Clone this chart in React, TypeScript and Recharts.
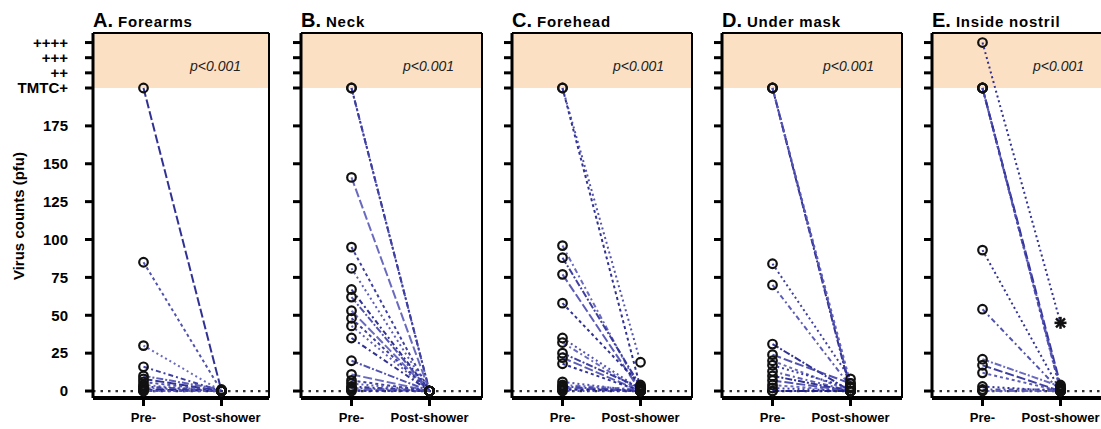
import { LineChart, Line, XAxis, YAxis, ReferenceArea, ReferenceLine } from "recharts";

// categories / labels
const letters = ["A.", "B.", "C.", "D.", "E."];
const sites = ["Forearms", "Neck", "Forehead", "Under mask", "Inside nostril"];
const timepoints = ["Pre-", "Post-shower"];
const yTickValues = [0, 25, 50, 75, 100, 125, 150, 175, 200, 210, 220, 230];
const yTickLabels = ["0", "25", "50", "75", "100", "125", "150", "175", "TMTC+", "++", "+++", "++++"];

// paired virus counts (pfu), one entry per subject: pre-shower / post-shower
const forearmsPre = [200, 85, 30, 16, 10, 8, 6, 4, 3, 2, 1, 0, 0];
const forearmsPost = [0, 0, 0, 0, 1, 0, 0, 0, 0, 0, 0, 0, 0];

const neckPre = [200, 200, 141, 95, 81, 67, 62, 53, 48, 43, 35, 20, 11, 7, 5, 3, 2, 1, 0];
const neckPost = [0, 0, 0, 0, 0, 0, 0, 0, 0, 0, 0, 0, 0, 0, 0, 0, 0, 0, 0];

const foreheadPre = [200, 200, 96, 88, 77, 58, 35, 32, 25, 22, 18, 6, 4, 3, 2, 1, 0];
const foreheadPost = [2, 19, 0, 3, 0, 4, 1, 0, 2, 0, 0, 0, 1, 0, 0, 0, 0];

const underMaskPre = [200, 200, 200, 84, 70, 31, 24, 20, 17, 13, 10, 7, 4, 2, 0, 0];
const underMaskPost = [0, 2, 5, 8, 3, 0, 5, 0, 2, 0, 0, 0, 0, 0, 0, 0];

const nostrilPre = [230, 200, 200, 200, 200, 93, 54, 21, 17, 12, 3, 1, 0];
const nostrilPost = [45, 0, 2, 4, 1, 0, 0, 3, 0, 0, 0, 1, 0];

const panels = [
  [forearmsPre, forearmsPost],
  [neckPre, neckPost],
  [foreheadPre, foreheadPost],
  [underMaskPre, underMaskPost],
  [nostrilPre, nostrilPost],
];

// layout / style
const FONT = "'Liberation Sans', Arial, Helvetica, sans-serif";
const LEFTS = [93, 301, 512, 722, 932];
const FRAME_W = [176, 181, 180, 180, 180];
const Y_MIN = -4.6;
const Y_MAX = 236.3;
const X_UNIT = 78;
const X_MIN = -50.5 / X_UNIT;
const lineColors = ["#1b1b88", "#3f3fa6", "#5a5ab8", "#2a2a97", "#4b4bb0"];
const lineDashes = ["9 3", "5 3 2 3", "3 3", "7 2 2 2", "2 3"];

const PLabel = ({ viewBox }: any) => {
  if (!viewBox) return null;
  return (
    <text
      x={viewBox.x + viewBox.width - 28}
      y={viewBox.y + 38}
      textAnchor="end"
      fontFamily={FONT}
      fontSize={14}
      fontStyle="italic"
      fill="#222"
    >
      p&lt;0.001
    </text>
  );
};

const makeDot = (panelIdx: number, s: number) => (props: any) => {
  const { cx, cy, index } = props;
  const key = `d-${s}-${index}`;
  if (cx == null || cy == null) return <g key={key} />;
  if (panelIdx === 4 && s === 0 && index === 1) {
    return (
      <g key={key} stroke="#111" strokeWidth={2.5}>
        <line x1={cx - 6} y1={cy} x2={cx + 6} y2={cy} />
        <line x1={cx} y1={cy - 6} x2={cx} y2={cy + 6} />
        <line x1={cx - 4.5} y1={cy - 4.5} x2={cx + 4.5} y2={cy + 4.5} />
        <line x1={cx - 4.5} y1={cy + 4.5} x2={cx + 4.5} y2={cy - 4.5} />
      </g>
    );
  }
  return <circle key={key} cx={cx} cy={cy} r={4.3} fill="none" stroke="#111" strokeWidth={2.2} />;
};

const Panel = ({ idx }: { idx: number }) => {
  const [pre, post] = panels[idx];
  const first = idx === 0;
  const axisW = first ? 93 : 20;
  const frameW = FRAME_W[idx];
  const xMax = X_MIN + frameW / X_UNIT;
  const data = timepoints.map((_t, ti) => {
    const row: any = { x: ti };
    pre.forEach((v, s) => {
      row["s" + s] = ti === 0 ? v : post[s];
    });
    return row;
  });

  return (
    <div style={{ position: "absolute", left: LEFTS[idx] - axisW, top: 0 }}>
      <LineChart
        width={axisW + frameW + 2}
        height={429}
        data={data}
        margin={{ top: 33, right: 2, bottom: 0, left: 0 }}
      >
        <ReferenceArea y1={200} y2={Y_MAX} fill="#FCE0C3" fillOpacity={1} stroke="none" label={<PLabel />} />
        <ReferenceLine y={0} stroke="#333" strokeDasharray="2.5 5" strokeWidth={2.2} />
        <ReferenceLine y={Y_MAX} stroke="#000" strokeWidth={2} />
        <ReferenceLine x={xMax} stroke="#000" strokeWidth={2} />
        <XAxis
          type="number"
          dataKey="x"
          domain={[X_MIN, xMax]}
          allowDataOverflow
          ticks={[0, 1]}
          interval={0}
          tickFormatter={(v: number) => timepoints[v] ?? ""}
          height={31}
          axisLine={{ stroke: "#000", strokeWidth: 4 }}
          tickLine={{ stroke: "#000", strokeWidth: 3 }}
          tickSize={8}
          tickMargin={7}
          tick={{ fill: "#000", fontSize: 13, fontWeight: 700, fontFamily: FONT }}
        />
        <YAxis
          type="number"
          domain={[Y_MIN, Y_MAX]}
          allowDataOverflow
          ticks={yTickValues}
          interval={0}
          width={axisW}
          tickFormatter={(v: number) => (first ? yTickLabels[yTickValues.indexOf(v)] : "")}
          axisLine={{ stroke: "#000", strokeWidth: 3 }}
          tickLine={{ stroke: "#000", strokeWidth: 3 }}
          tickSize={8}
          tickMargin={17}
          tick={{ fill: "#000", fontSize: 15, fontWeight: 700, fontFamily: FONT }}
        />
        {pre.map((_v, s) => (
          <Line
            key={s}
            type="linear"
            dataKey={"s" + s}
            stroke={lineColors[s % lineColors.length]}
            strokeWidth={2}
            strokeOpacity={0.9}
            strokeDasharray={lineDashes[(s * 2 + idx) % lineDashes.length]}
            dot={makeDot(idx, s)}
            activeDot={false}
            isAnimationActive={false}
          />
        ))}
      </LineChart>
    </div>
  );
};

export default function App() {
  return (
    <div
      style={{
        position: "absolute",
        left: 0,
        top: 0,
        width: 1101,
        height: 429,
        overflow: "hidden",
        background: "#fff",
        fontFamily: FONT,
      }}
    >
      {panels.map((_p, i) => (
        <Panel key={i} idx={i} />
      ))}
      {sites.map((site, i) => (
        <div
          key={site}
          style={{
            position: "absolute",
            left: LEFTS[i],
            top: 10,
            lineHeight: "20px",
            fontWeight: 700,
            whiteSpace: "nowrap",
            color: "#000",
          }}
        >
          <span style={{ fontSize: 20 }}>{letters[i]}</span>
          <span style={{ fontSize: 15, letterSpacing: 0.8 }}> {site}</span>
        </div>
      ))}
      <div
        style={{
          position: "absolute",
          left: 18,
          top: 216,
          transform: "translate(-50%, -50%) rotate(-90deg)",
          fontSize: 15,
          fontWeight: 700,
          whiteSpace: "nowrap",
          color: "#000",
        }}
      >
        Virus counts (pfu)
      </div>
    </div>
  );
}
